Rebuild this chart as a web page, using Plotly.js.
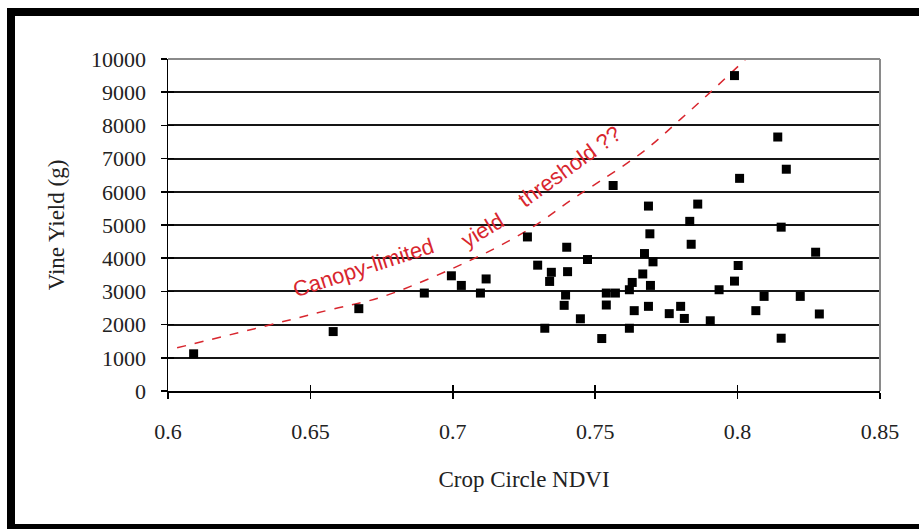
<!DOCTYPE html>
<html>
<head>
<meta charset="utf-8">
<script src="https://cdn.plot.ly/plotly-3.0.1.min.js"></script>
<style>
  html, body { margin: 0; padding: 0; background: #fff; width: 919px; height: 529px; overflow: hidden; }
  #frame { position: absolute; left: 7px; top: 8px; width: 912px; height: 521px;
           border-left: 8px solid #000; border-top: 8px solid #000; border-bottom: 5px solid #000;
           box-sizing: border-box; background: #fff; }
  #chart { position: absolute; left: 0; top: 0; width: 904px; height: 508px; }
</style>
</head>
<body>
<div id="frame"><div id="chart"></div></div>
<script>
// Crop Circle NDVI vs vine yield (g)
const ndvi = [0.609, 0.658, 0.667, 0.690, 0.6995, 0.703, 0.7097, 0.7117, 0.7262, 0.7298,
  0.7323, 0.734, 0.7346, 0.7391, 0.7396, 0.740, 0.7403, 0.7448, 0.7473, 0.7523,
  0.7539, 0.7539, 0.7563, 0.7571, 0.762, 0.762, 0.763, 0.7637, 0.7667, 0.7673,
  0.7687, 0.7687, 0.7692, 0.7694, 0.7703, 0.776, 0.780, 0.7813, 0.7832, 0.7837,
  0.786, 0.7904, 0.7935, 0.7989, 0.7989, 0.8002, 0.8007, 0.8064, 0.8093, 0.8141,
  0.8153, 0.8153, 0.8171, 0.822, 0.8274, 0.8287];
const yieldG = [1120, 1790, 2480, 2950, 3470, 3180, 2950, 3375, 4640, 3790,
  1890, 3300, 3575, 2580, 2890, 4330, 3595, 2175, 3960, 1580,
  2950, 2590, 6190, 2950, 3050, 1890, 3270, 2420, 3525, 4140,
  5570, 2550, 4735, 3180, 3890, 2330, 2550, 2185, 5110, 4420,
  5630, 2115, 3050, 9500, 3310, 3780, 6405, 2420, 2850, 7650,
  4935, 1590, 6680, 2850, 4180, 2320];

// hand-drawn threshold curve
const curveX = [0.6032, 0.6383, 0.657, 0.6757, 0.7097, 0.7284, 0.7413, 0.7472, 0.767, 0.78, 0.7916, 0.8035];
const curveY = [1300, 2045, 2450, 2850, 4080, 4960, 5740, 6070, 7220, 8190, 9090, 10050];

const xTicks = [0.6, 0.65, 0.7, 0.75, 0.8, 0.85];
const yTicks = [0, 1000, 2000, 3000, 4000, 5000, 6000, 7000, 8000, 9000, 10000];
const labelWords = ['Canopy-limited', 'yield', 'threshold ??'];
const labelX = [0.6688, 0.7104, 0.7410];
const labelY = [3720, 4830, 6760];
const labelAngle = [-18, -31, -36];

const serif = 'Liberation Serif, Times New Roman, serif';
const red = '#d8262e';

const traces = [
  { x: curveX, y: curveY, mode: 'lines', type: 'scatter', hoverinfo: 'skip', cliponaxis: true,
    line: { color: red, width: 1.5, dash: 'dash', shape: 'spline' }, showlegend: false },
  { x: ndvi, y: yieldG, mode: 'markers', type: 'scatter',
    marker: { symbol: 'square', size: 9, color: '#000' }, showlegend: false },
  { x: [0.6], y: [0], xaxis: 'x2', yaxis: 'y2', mode: 'markers',
    marker: { opacity: 0 }, hoverinfo: 'skip', showlegend: false }
];

const annotations = labelWords.map((t, i) => ({
  x: labelX[i], y: labelY[i], xref: 'x', yref: 'y', text: t, showarrow: false,
  textangle: labelAngle[i], font: { family: 'Liberation Sans, Arial, sans-serif', size: 22, color: red }
}));

const layout = {
  width: 904, height: 508,
  margin: { l: 153, r: 39, t: 43, b: 133 },
  paper_bgcolor: '#fff', plot_bgcolor: '#fff',
  showlegend: false,
  font: { family: serif, size: 22, color: '#111' },
  xaxis: {
    range: [0.6, 0.85], tickvals: xTicks, ticktext: xTicks.map(String),
    showgrid: false, zeroline: false, showline: true, linecolor: '#000', linewidth: 1.5,
    ticks: 'outside', ticklen: 6, tickwidth: 1.5, tickcolor: '#000',
    ticklabelstandoff: 14,
    tickfont: { family: serif, size: 22, color: '#222' },
    title: { text: 'Crop Circle NDVI', font: { family: serif, size: 23, color: '#222' }, standoff: 28 }
  },
  yaxis: {
    range: [0, 10000], tickvals: yTicks, ticktext: yTicks.map(String),
    showgrid: true, gridcolor: '#151515', gridwidth: 2,
    zeroline: false, showline: true, linecolor: '#000', linewidth: 1.5,
    ticks: 'outside', ticklen: 6, tickwidth: 1.5, tickcolor: '#000',
    ticklabelstandoff: 10,
    tickfont: { family: serif, size: 22, color: '#222' },
    title: { text: 'Vine Yield (g)', font: { family: serif, size: 23, color: '#222' }, standoff: 20 }
  },
  xaxis2: { overlaying: 'x', matches: 'x', range: [0.6, 0.85], tickvals: xTicks, showticklabels: false,
    ticks: 'inside', ticklen: 6, tickwidth: 1.5, tickcolor: '#000', showgrid: false, zeroline: false, showline: false },
  yaxis2: { overlaying: 'y', matches: 'y', range: [0, 10000], tickvals: yTicks, showticklabels: false,
    ticks: 'inside', ticklen: 6, tickwidth: 1.5, tickcolor: '#000', showgrid: false, zeroline: false, showline: false },
  shapes: [
    { type: 'line', xref: 'paper', yref: 'paper', x0: 0, x1: 1, y0: 1, y1: 1, layer: 'above',
      line: { color: '#8a8a8a', width: 2 } },
    { type: 'line', xref: 'paper', yref: 'paper', x0: 1, x1: 1, y0: 0, y1: 1, layer: 'above',
      line: { color: '#8a8a8a', width: 2 } }
  ],
  annotations: annotations
};

Plotly.newPlot('chart', traces, layout, { staticPlot: true, displayModeBar: false });
</script>
</body>
</html>
